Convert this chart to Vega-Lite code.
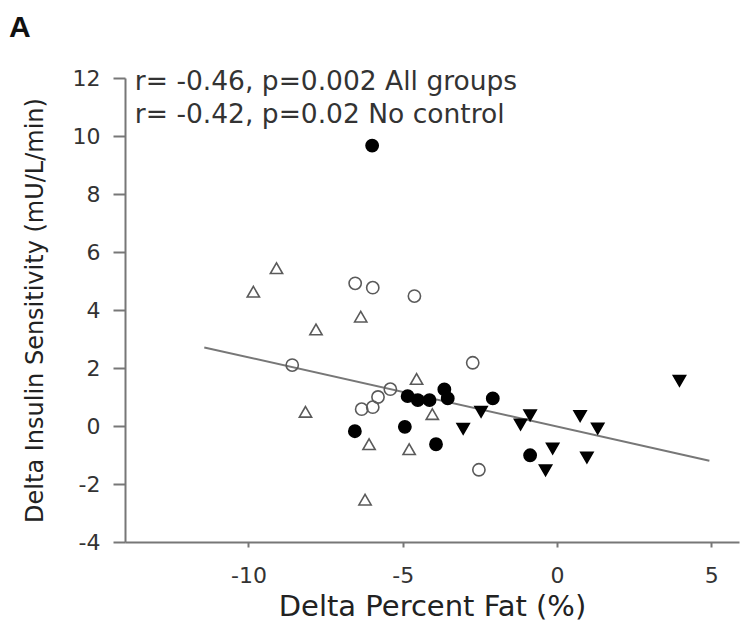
{
  "$schema": "https://vega.github.io/schema/vega-lite/v6.json",
  "width": 614,
  "height": 464,
  "autosize": {"type": "none"},
  "padding": {"left": 125, "top": 78, "right": 1, "bottom": 89},
  "background": "white",
  "config": {
    "view": {"stroke": null},
    "font": "DejaVu Sans",
    "axis": {
      "grid": false,
      "domainColor": "#777777",
      "domainWidth": 2,
      "tickColor": "#777777",
      "tickWidth": 2,
      "labelFont": "DejaVu Sans",
      "labelColor": "#333333",
      "labelExpr": "replace(datum.label, '\u2212', '-')",
      "titleFont": "DejaVu Sans",
      "titleColor": "#222222",
      "titleFontWeight": "normal"
    }
  },
  "title": {
    "text": "A",
    "anchor": "start",
    "frame": "group",
    "orient": "top",
    "dx": -116,
    "offset": 24,
    "font": "Liberation Sans",
    "fontSize": 30,
    "fontWeight": "bold",
    "color": "#111111"
  },
  "datasets": {
    "points": [
      {"group": "Group 1", "fat": -5.99, "insulin": 9.67},
      {"group": "Group 1", "fat": -4.84, "insulin": 1.03},
      {"group": "Group 1", "fat": -4.51, "insulin": 0.89},
      {"group": "Group 1", "fat": -4.13, "insulin": 0.89},
      {"group": "Group 1", "fat": -3.65, "insulin": 1.26},
      {"group": "Group 1", "fat": -3.54, "insulin": 0.95},
      {"group": "Group 1", "fat": -2.08, "insulin": 0.95},
      {"group": "Group 1", "fat": -4.93, "insulin": -0.03},
      {"group": "Group 1", "fat": -6.55, "insulin": -0.18},
      {"group": "Group 1", "fat": -3.92, "insulin": -0.63},
      {"group": "Group 1", "fat": -0.87, "insulin": -1.01},
      {"group": "Group 2", "fat": -6.54, "insulin": 4.92},
      {"group": "Group 2", "fat": -5.97, "insulin": 4.77},
      {"group": "Group 2", "fat": -4.62, "insulin": 4.48},
      {"group": "Group 2", "fat": -8.58, "insulin": 2.10},
      {"group": "Group 2", "fat": -2.73, "insulin": 2.18},
      {"group": "Group 2", "fat": -5.40, "insulin": 1.27},
      {"group": "Group 2", "fat": -5.80, "insulin": 1.00},
      {"group": "Group 2", "fat": -6.33, "insulin": 0.58},
      {"group": "Group 2", "fat": -5.97, "insulin": 0.65},
      {"group": "Group 2", "fat": -2.53, "insulin": -1.51},
      {"group": "Group 3", "fat": -9.09, "insulin": 5.44},
      {"group": "Group 3", "fat": -9.84, "insulin": 4.63},
      {"group": "Group 3", "fat": -6.36, "insulin": 3.77},
      {"group": "Group 3", "fat": -7.81, "insulin": 3.33},
      {"group": "Group 3", "fat": -4.55, "insulin": 1.62},
      {"group": "Group 3", "fat": -8.15, "insulin": 0.49},
      {"group": "Group 3", "fat": -4.04, "insulin": 0.41},
      {"group": "Group 3", "fat": -6.09, "insulin": -0.63},
      {"group": "Group 3", "fat": -4.79, "insulin": -0.80},
      {"group": "Group 3", "fat": -6.22, "insulin": -2.54},
      {"group": "Group 4", "fat": 3.97, "insulin": 1.56},
      {"group": "Group 4", "fat": -2.46, "insulin": 0.49},
      {"group": "Group 4", "fat": -3.04, "insulin": -0.10},
      {"group": "Group 4", "fat": -0.87, "insulin": 0.37},
      {"group": "Group 4", "fat": -1.18, "insulin": 0.05},
      {"group": "Group 4", "fat": 0.75, "insulin": 0.34},
      {"group": "Group 4", "fat": 1.32, "insulin": -0.09},
      {"group": "Group 4", "fat": -0.14, "insulin": -0.78},
      {"group": "Group 4", "fat": -0.37, "insulin": -1.53},
      {"group": "Group 4", "fat": 0.97, "insulin": -1.09}
    ],
    "fit": [
      {"fat": -11.43, "insulin": 2.71},
      {"fat": 4.94, "insulin": -1.2}
    ],
    "notes": [
      {"fat": -13.68, "insulin": 11.86, "label": "r= -0.46, p=0.002 All groups"},
      {"fat": -13.68, "insulin": 10.74, "label": "r= -0.42, p=0.02 No control"}
    ]
  },
  "layer": [
    {
      "data": {"name": "fit"},
      "mark": {"type": "line", "color": "#777777", "strokeWidth": 2},
      "encoding": {
        "x": {
          "field": "fat", "type": "quantitative",
          "scale": {"domain": [-14, 5.9], "nice": false, "zero": false},
          "axis": {
            "values": [-10, -5, 0, 5],
            "tickSize": 5,
            "labelPadding": 18,
            "labelFontSize": 22,
            "title": "Delta Percent Fat (%)",
            "titleFontSize": 29,
            "titlePadding": 6
          }
        },
        "y": {
          "field": "insulin", "type": "quantitative",
          "scale": {"domain": [-4, 12], "nice": false, "zero": false},
          "axis": {
            "values": [-4, -2, 0, 2, 4, 6, 8, 10, 12],
            "tickSize": 12,
            "labelPadding": 13,
            "labelFontSize": 22,
            "title": "Delta Insulin Sensitivity (mU/L/min)",
            "titleFontSize": 24,
            "titlePadding": 25
          }
        }
      }
    },
    {
      "data": {"name": "points"},
      "mark": {"type": "point", "strokeWidth": 1.6, "opacity": 1},
      "encoding": {
        "x": {"field": "fat", "type": "quantitative"},
        "y": {"field": "insulin", "type": "quantitative"},
        "shape": {
          "field": "group", "type": "nominal", "legend": null,
          "scale": {"domain": ["Group 1", "Group 2", "Group 3", "Group 4"], "range": ["circle", "circle", "triangle-up", "triangle-down"]}
        },
        "fill": {
          "field": "group", "type": "nominal", "legend": null,
          "scale": {"domain": ["Group 1", "Group 2", "Group 3", "Group 4"], "range": ["#000000", "transparent", "transparent", "#000000"]}
        },
        "stroke": {
          "field": "group", "type": "nominal", "legend": null,
          "scale": {"domain": ["Group 1", "Group 2", "Group 3", "Group 4"], "range": ["#000000", "#5a5a5a", "#5a5a5a", "#000000"]}
        },
        "size": {
          "field": "group", "type": "nominal", "legend": null,
          "scale": {"domain": ["Group 1", "Group 2", "Group 3", "Group 4"], "range": [150, 150, 240, 230]}
        }
      }
    },
    {
      "data": {"name": "notes"},
      "mark": {"type": "text", "align": "left", "baseline": "middle", "fontSize": 26.5, "font": "DejaVu Sans", "color": "#333333"},
      "encoding": {
        "x": {"field": "fat", "type": "quantitative"},
        "y": {"field": "insulin", "type": "quantitative"},
        "text": {"field": "label"}
      }
    }
  ]
}
